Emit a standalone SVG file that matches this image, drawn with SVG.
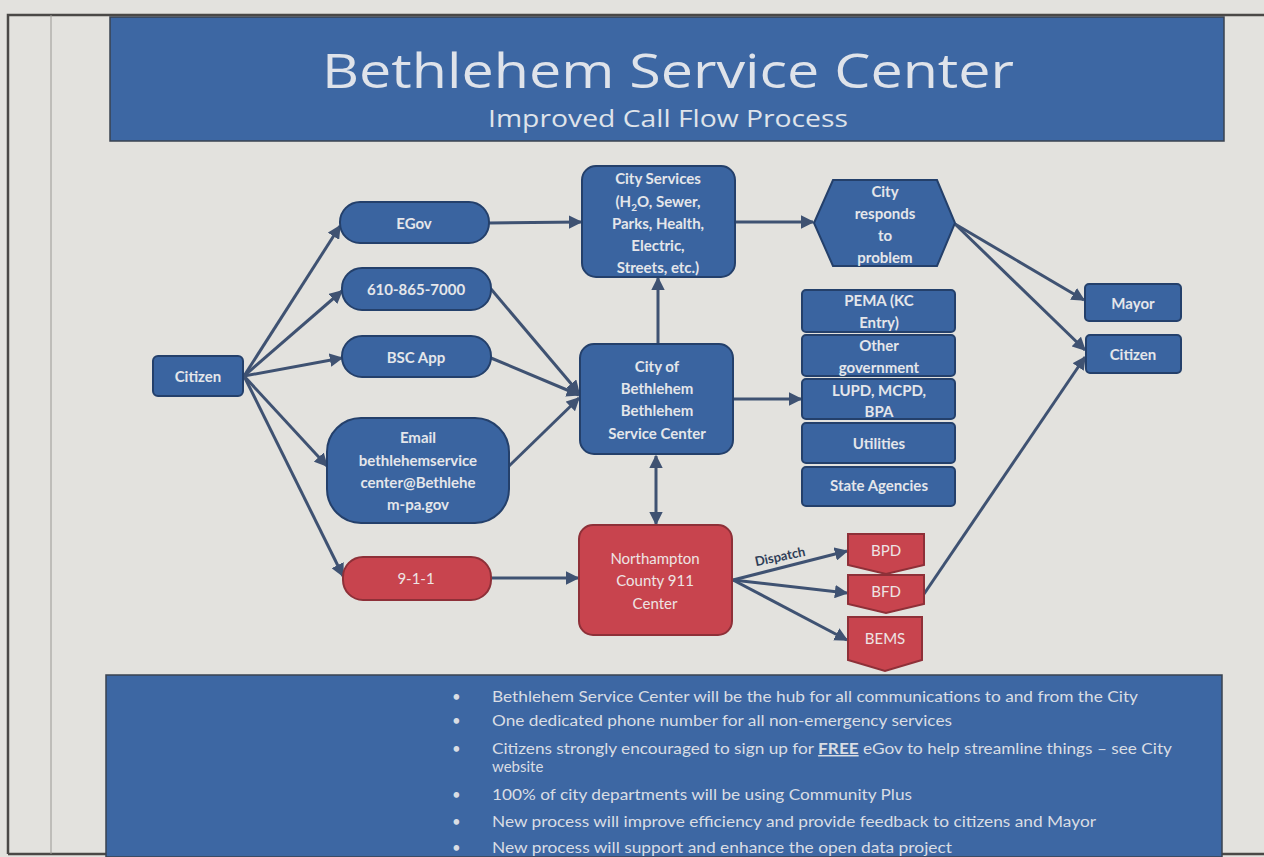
<svg xmlns="http://www.w3.org/2000/svg" width="1264" height="857" viewBox="0 0 1264 857">
<defs>
<style>
.bg{fill:#e3e2de}
.band{fill:#3d67a3;stroke:#3a4350;stroke-width:1.5}
.nb{fill:#3a64a0;stroke:#24406b;stroke-width:2}
.nr{fill:#c8444e;stroke:#8e3038;stroke-width:2}
.t{font-family:Lato,"Open Sans",sans-serif;font-weight:bold;font-size:15px;fill:#e4e6ea;text-anchor:middle}
.tr{font-family:Lato,"Open Sans",sans-serif;font-size:15px;fill:#eee4e4;text-anchor:middle}
.b{font-family:Lato,"Open Sans",sans-serif;font-size:15px;fill:#d9dde4}
.c{fill:none;stroke:#3f5272;stroke-width:3}
</style>
<marker id="ah" viewBox="0 0 10 10" refX="9" refY="5" markerWidth="4.5" markerHeight="4.5" orient="auto-start-reverse">
<path d="M0,0 L10,5 L0,10 z" fill="#3f5272"/>
</marker>
</defs>
<rect class="bg" x="0" y="0" width="1264" height="857"/>
<g id="frame">
<path d="M8,854 L8,15 L1264,15" fill="none" stroke="#4a4846" stroke-width="2.5"/>
<line x1="8" y1="854" x2="1264" y2="854" stroke="#4a4846" stroke-width="2.5"/>
<line x1="51" y1="15" x2="51" y2="854" stroke="#9a9894" stroke-width="1"/>
</g>
<g id="header">
<rect class="band" x="110" y="17" width="1114" height="124"/>
<text x="668" y="88" font-family="'Open Sans',Lato,sans-serif" font-size="48" fill="#dfe3ea" text-anchor="middle" textLength="692" lengthAdjust="spacingAndGlyphs">Bethlehem Service Center</text>
<text x="668" y="127" font-family="'Open Sans',Lato,sans-serif" font-size="23" fill="#dfe3ea" text-anchor="middle" textLength="360" lengthAdjust="spacingAndGlyphs">Improved Call Flow Process</text>
</g>
<g id="connectors">
<line class="c" x1="244" y1="376" x2="340" y2="226" marker-end="url(#ah)"/>
<line class="c" x1="244" y1="376" x2="342" y2="291" marker-end="url(#ah)"/>
<line class="c" x1="244" y1="376" x2="342" y2="358" marker-end="url(#ah)"/>
<line class="c" x1="244" y1="376" x2="327" y2="466" marker-end="url(#ah)"/>
<line class="c" x1="244" y1="376" x2="343" y2="576" marker-end="url(#ah)"/>
<line class="c" x1="489" y1="223" x2="581" y2="222" marker-end="url(#ah)"/>
<line class="c" x1="491" y1="289" x2="579" y2="393" marker-end="url(#ah)"/>
<line class="c" x1="491" y1="358" x2="579" y2="395" marker-end="url(#ah)"/>
<line class="c" x1="509" y1="466" x2="579" y2="398" marker-end="url(#ah)"/>
<line class="c" x1="658" y1="344" x2="658" y2="278" marker-end="url(#ah)"/>
<line class="c" x1="733" y1="399" x2="801" y2="399" marker-end="url(#ah)"/>
<line class="c" x1="656" y1="456" x2="656" y2="524" marker-start="url(#ah)" marker-end="url(#ah)"/>
<line class="c" x1="735" y1="222" x2="813" y2="222" marker-end="url(#ah)"/>
<line class="c" x1="955" y1="224" x2="1084" y2="300" marker-end="url(#ah)"/>
<line class="c" x1="955" y1="224" x2="1085" y2="350" marker-end="url(#ah)"/>
<line class="c" x1="924" y1="594" x2="1085" y2="357" marker-end="url(#ah)"/>
<line class="c" x1="491" y1="578" x2="578" y2="578" marker-end="url(#ah)"/>
<line class="c" x1="733" y1="580" x2="847" y2="551" marker-end="url(#ah)"/>
<line class="c" x1="733" y1="580" x2="847" y2="593" marker-end="url(#ah)"/>
<line class="c" x1="733" y1="580" x2="847" y2="640" marker-end="url(#ah)"/>
<text x="781" y="561" transform="rotate(-12 781 561)" font-family="Lato,'Open Sans',sans-serif" font-weight="bold" font-size="13" fill="#2f3e58" text-anchor="middle">Dispatch</text>
</g>
<g id="citizen-left">
<rect class="nb" x="153" y="356" width="90" height="40" rx="5"/>
<text class="t" x="198" y="382">Citizen</text>
</g>
<g id="egov">
<rect class="nb" x="340" y="202" width="149" height="41" rx="20"/>
<text class="t" x="414" y="229">EGov</text>
</g>
<g id="phone">
<rect class="nb" x="342" y="268" width="149" height="42" rx="20"/>
<text class="t" x="416" y="295">610-865-7000</text>
</g>
<g id="bscapp">
<rect class="nb" x="342" y="336" width="149" height="41" rx="20"/>
<text class="t" x="416" y="363">BSC App</text>
</g>
<g id="email">
<rect class="nb" x="327" y="418" width="182" height="105" rx="34"/>
<text class="t" x="418" y="443">Email</text>
<text class="t" x="418" y="466">bethlehemservice</text>
<text class="t" x="418" y="488">center@Bethlehe</text>
<text class="t" x="418" y="510">m-pa.gov</text>
</g>
<g id="n911">
<rect class="nr" x="343" y="557" width="148" height="43" rx="20"/>
<text class="tr" x="416" y="584">9-1-1</text>
</g>
<g id="cityservices">
<rect class="nb" x="582" y="166" width="153" height="111" rx="14"/>
<text class="t" x="658" y="184">City Services</text>
<text class="t" x="658" y="207">(H<tspan font-size="10" dy="4">2</tspan><tspan dy="-4">O, Sewer,</tspan></text>
<text class="t" x="658" y="229">Parks, Health,</text>
<text class="t" x="658" y="251">Electric,</text>
<text class="t" x="658" y="273">Streets, etc.)</text>
</g>
<g id="cityofbethlehem">
<rect class="nb" x="580" y="344" width="153" height="110" rx="14"/>
<text class="t" x="657" y="372">City of</text>
<text class="t" x="657" y="394">Bethlehem</text>
<text class="t" x="657" y="416">Bethlehem</text>
<text class="t" x="657" y="439">Service Center</text>
</g>
<g id="northampton">
<rect class="nr" x="579" y="525" width="153" height="110" rx="14"/>
<text class="tr" x="655" y="564">Northampton</text>
<text class="tr" x="655" y="586">County 911</text>
<text class="tr" x="655" y="609">Center</text>
</g>
<g id="cityresponds">
<polygon class="nb" points="814,223 833,180 937,180 955,223 937,266 833,266"/>
<text class="t" x="885" y="197">City</text>
<text class="t" x="885" y="219">responds</text>
<text class="t" x="885" y="241">to</text>
<text class="t" x="885" y="263">problem</text>
</g>
<g id="pema">
<rect class="nb" x="802" y="290" width="153" height="42" rx="4"/>
<text class="t" x="879" y="306">PEMA (KC</text>
<text class="t" x="879" y="328">Entry)</text>
</g>
<g id="othergov">
<rect class="nb" x="802" y="335" width="153" height="41" rx="4"/>
<text class="t" x="879" y="351">Other</text>
<text class="t" x="879" y="373">government</text>
</g>
<g id="lupd">
<rect class="nb" x="802" y="379" width="153" height="40" rx="4"/>
<text class="t" x="879" y="396">LUPD, MCPD,</text>
<text class="t" x="879" y="417">BPA</text>
</g>
<g id="utilities">
<rect class="nb" x="802" y="423" width="153" height="40" rx="4"/>
<text class="t" x="879" y="449">Utilities</text>
</g>
<g id="stateagencies">
<rect class="nb" x="802" y="467" width="153" height="39" rx="4"/>
<text class="t" x="879" y="491">State Agencies</text>
</g>
<g id="mayor">
<rect class="nb" x="1085" y="284" width="96" height="37" rx="4"/>
<text class="t" x="1133" y="309">Mayor</text>
</g>
<g id="citizen-right">
<rect class="nb" x="1086" y="335" width="95" height="38" rx="4"/>
<text class="t" x="1133" y="360">Citizen</text>
</g>
<g id="bpd">
<polygon class="nr" points="848,534 924,534 924,565 886,574 848,565"/>
<text class="tr" x="886" y="556">BPD</text>
</g>
<g id="bfd">
<polygon class="nr" points="848,575 924,575 924,604 886,613 848,604"/>
<text class="tr" x="886" y="597">BFD</text>
</g>
<g id="bems">
<polygon class="nr" points="848,617 922,617 922,660 885,671 848,660"/>
<text class="tr" x="885" y="644">BEMS</text>
</g>
<g id="notes">
<rect class="band" x="106" y="675" width="1116" height="182"/>
<g font-family="Lato,'Open Sans',sans-serif" font-size="15" fill="#d9dde4">
<text x="452" y="702">•</text>
<text x="452" y="726">•</text>
<text x="452" y="754">•</text>
<text x="452" y="800">•</text>
<text x="452" y="827">•</text>
<text x="452" y="853">•</text>
</g>
<text class="b" x="492" y="702" textLength="646" lengthAdjust="spacingAndGlyphs">Bethlehem Service Center will be the hub for all communications to and from the City</text>
<text class="b" x="492" y="726" textLength="460" lengthAdjust="spacingAndGlyphs">One dedicated phone number for all non-emergency services</text>
<text class="b" x="492" y="754" textLength="680" lengthAdjust="spacingAndGlyphs">Citizens strongly encouraged to sign up for <tspan font-weight="bold" text-decoration="underline">FREE</tspan>  eGov to help streamline things – see City</text>
<text class="b" x="492" y="772">website</text>
<text class="b" x="492" y="800" textLength="420" lengthAdjust="spacingAndGlyphs">100% of city departments will be using Community Plus</text>
<text class="b" x="492" y="827" textLength="604" lengthAdjust="spacingAndGlyphs">New process will improve efficiency and provide feedback to citizens and Mayor</text>
<text class="b" x="492" y="853" textLength="460" lengthAdjust="spacingAndGlyphs">New process will support and enhance the open data project</text>
</g>
</svg>
